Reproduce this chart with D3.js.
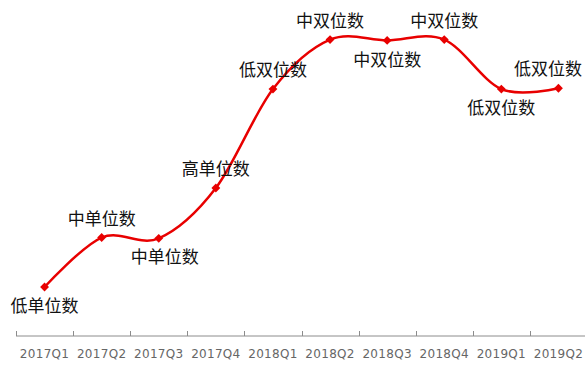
<!DOCTYPE html>
<html>
<head>
<meta charset="utf-8">
<script src="https://cdn.jsdelivr.net/npm/d3@7"></script>
<style>
  body { margin: 0; background: #fff; }
</style>
</head>
<body>
<div id="chart"></div>
<script>
// quarters on the x axis
const quarters = ['2017Q1', '2017Q2', '2017Q3', '2017Q4', '2018Q1',
                  '2018Q2', '2018Q3', '2018Q4', '2019Q1', '2019Q2'];
// growth level (approx. %)
const growth = [2, 5, 4.95, 8, 14, 17, 16.95, 17, 14, 14.05];
// label text and whether it sits above or below the point
const levelLabels = ['低单位数', '中单位数', '中单位数', '高单位数', '低双位数',
                     '中双位数', '中双位数', '中双位数', '低双位数', '低双位数'];
const labelSide = ['below', 'above', 'below', 'above', 'above',
                   'above', 'below', 'above', 'below', 'above'];

const width = 585, height = 367;
const red = '#e80000';

const svg = d3.select('#chart').append('svg')
    .attr('width', width)
    .attr('height', height);

const x = d3.scaleBand().domain(quarters).range([16, 587]);
const y = d3.scaleLinear().domain([0, 19.4]).range([320, 0]);
const cx = d => x(d) + x.bandwidth() / 2;

// x axis: line with ticks pointing up between categories
const axisY = 336;
const gx = svg.append('g');
gx.append('line')
    .attr('x1', x.range()[0]).attr('x2', x.range()[1])
    .attr('y1', axisY).attr('y2', axisY)
    .attr('stroke', '#8c8c8c').attr('stroke-width', 1);
gx.selectAll('line.tick')
    .data(quarters.concat([null]))
    .join('line')
    .attr('class', 'tick')
    .attr('x1', (d, i) => Math.round(x.range()[0] + i * x.step()) + 0.5)
    .attr('x2', (d, i) => Math.round(x.range()[0] + i * x.step()) + 0.5)
    .attr('y1', axisY - 5).attr('y2', axisY)
    .attr('stroke', '#8c8c8c').attr('stroke-width', 1);
gx.selectAll('text')
    .data(quarters)
    .join('text')
    .attr('x', d => cx(d))
    .attr('y', 354)
    .attr('dy', '0.35em')
    .attr('text-anchor', 'middle')
    .attr('font-family', '"DejaVu Sans", Verdana, sans-serif')
    .attr('font-size', 12)
    .attr('letter-spacing', 0.3)
    .attr('fill', '#666')
    .text(d => d);

// smoothed line
const line = d3.line()
    .x((d, i) => cx(quarters[i]))
    .y(d => y(d))
    .curve(d3.curveCatmullRom.alpha(0));

svg.append('path')
    .datum(growth)
    .attr('d', line)
    .attr('fill', 'none')
    .attr('stroke', red)
    .attr('stroke-width', 2.5);

// diamond markers
svg.selectAll('path.marker')
    .data(growth)
    .join('path')
    .attr('class', 'marker')
    .attr('d', d3.symbol(d3.symbolDiamond2, 50))
    .attr('transform', (d, i) => `translate(${cx(quarters[i])},${y(d)})`)
    .attr('fill', red);

// data labels
const labelShift = { 2: 6 };
svg.selectAll('text.lbl')
    .data(levelLabels)
    .join('text')
    .attr('class', 'lbl')
    .attr('x', (d, i) => Math.min(cx(quarters[i]) + (labelShift[i] || 0), width - 37))
    .attr('y', (d, i) => y(growth[i]) + (labelSide[i] === 'above' ? -19 : 19))
    .attr('dy', '0.36em')
    .attr('text-anchor', 'middle')
    .attr('font-family', '"Noto Sans CJK SC", sans-serif')
    .attr('font-size', 17)
    .attr('fill', '#111')
    .text(d => d);
</script>
</body>
</html>
